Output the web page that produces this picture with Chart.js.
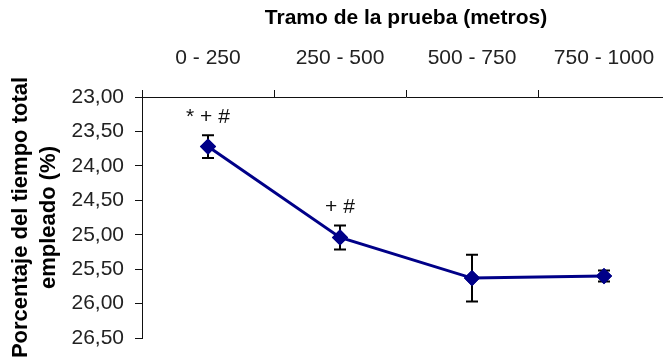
<!DOCTYPE html>
<html>
<head>
<meta charset="utf-8">
<script src="https://cdn.jsdelivr.net/npm/chart.js@4"></script>
<style>
  html, body { margin: 0; padding: 0; background: #fff; overflow: hidden; }
  #wrap { width: 679px; height: 364px; position: relative; }
</style>
</head>
<body>
<div id="wrap"><canvas id="c"></canvas></div>
<script>
const categories = ['0 - 250', '250 - 500', '500 - 750', '750 - 1000'];
const means = [23.72, 25.04, 25.63, 25.60];
const errors = [0.165, 0.175, 0.34, 0.08];
const marks = ['* + #', '+ #', '', ''];
const yMin = 23.0, yMax = 26.5, yStep = 0.5;
const xTitle = 'Tramo de la prueba (metros)';
const yTitle = ['Porcentaje del tiempo total', 'empleado (%)'];

const FONT = "'Liberation Sans', Arial, sans-serif";

const errorBars = {
  id: 'errorBars',
  afterDatasetsDraw(chart) {
    const ctx = chart.ctx;
    const meta = chart.getDatasetMeta(0);
    const y = chart.scales.y;
    ctx.save();
    ctx.strokeStyle = '#000';
    ctx.lineWidth = 2;
    meta.data.forEach((pt, i) => {
      const x = pt.x;
      const yt = y.getPixelForValue(means[i] - errors[i]);
      const yb = y.getPixelForValue(means[i] + errors[i]);
      ctx.beginPath();
      ctx.moveTo(x, yt); ctx.lineTo(x, yb);
      ctx.moveTo(x - 6, yt); ctx.lineTo(x + 6, yt);
      ctx.moveTo(x - 6, yb); ctx.lineTo(x + 6, yb);
      ctx.stroke();
    });
    meta.data.forEach((pt) => pt.draw(ctx, chart.chartArea));
    ctx.fillStyle = '#111';
    ctx.font = '21px ' + FONT;
    ctx.textAlign = 'center';
    ctx.textBaseline = 'middle';
    meta.data.forEach((pt, i) => {
      if (!marks[i]) return;
      const yt = y.getPixelForValue(means[i] - errors[i]);
      ctx.fillText(marks[i], pt.x, yt - 18);
    });
    ctx.restore();
  }
};

new Chart(document.getElementById('c'), {
  type: 'line',
  data: {
    labels: categories,
    datasets: [{
      data: means,
      borderColor: '#000088',
      backgroundColor: '#000088',
      borderWidth: 3,
      pointStyle: 'rectRot',
      pointRadius: 6,
      pointBackgroundColor: '#000088',
      pointBorderColor: '#000088',
      tension: 0
    }]
  },
  options: {
    responsive: true,
    maintainAspectRatio: false,
    animation: false,
    events: [],
    layout: { padding: { top: 0, left: 0, right: 3, bottom: 26 } },
    plugins: { legend: { display: false }, tooltip: { enabled: false } },
    scales: {
      x: {
        position: 'top',
        offset: true,
        grid: { display: true, drawOnChartArea: false, offset: true, tickLength: 7, color: '#111', lineWidth: 1 },
        border: { display: true, color: '#111', width: 1 },
        ticks: { color: '#222', font: { family: FONT, size: 21 }, padding: 19, maxRotation: 0 },
        title: { display: true, text: xTitle, color: '#000', font: { family: FONT, size: 21, weight: 'bold' }, padding: { top: 6, bottom: 0 } },
        afterFit: (s) => { s.height = 97; }
      },
      y: {
        reverse: true,
        min: yMin,
        max: yMax,
        grid: { display: true, drawOnChartArea: false, tickLength: 7, color: '#111', lineWidth: 1 },
        border: { display: true, color: '#111', width: 1 },
        ticks: {
          stepSize: yStep,
          color: '#222',
          font: { family: FONT, size: 21 },
          padding: 11,
          callback: (v) => Number(v).toFixed(2).replace('.', ',')
        },
        title: { display: true, text: yTitle, color: '#000', font: { family: FONT, size: 22, weight: 'bold', lineHeight: 1.27 }, padding: { top: 7, bottom: 0 } },
        afterFit: (s) => { s.width = 142; }
      }
    }
  },
  plugins: [errorBars]
});
</script>
</body>
</html>
